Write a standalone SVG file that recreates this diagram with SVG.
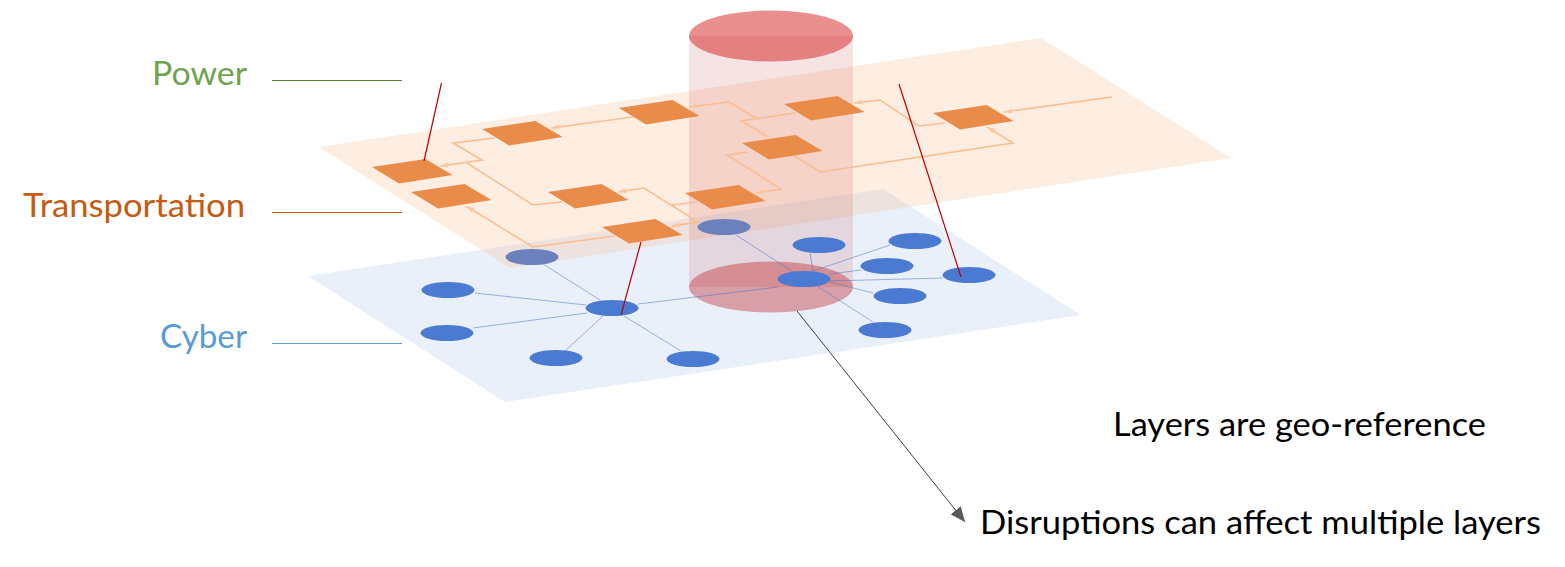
<svg xmlns="http://www.w3.org/2000/svg" width="1565" height="567" viewBox="0 0 1565 567">
<style>
text{font-family:"Lato","Carlito","Liberation Sans",sans-serif}
.lbl{font-size:33px}
.note{font-size:33px;fill:#000}
.p{fill:#E98C4A}
.c{fill:#4A7AD1}
.cs{fill:#6B80BC}
.pe{fill:none;stroke:#FBBE92;stroke-width:1.6}
.pa{marker-end:url(#oa)}
.ce{stroke:#4472C4;stroke-opacity:.5;stroke-width:1;fill:none}
.red{stroke:#C00000;stroke-width:1.2;fill:none}
</style>
<defs>
<marker id="oa" markerUnits="userSpaceOnUse" markerWidth="9" markerHeight="6" refX="8" refY="3" orient="auto"><path d="M0 0.500L8 3L0 5.500z" fill="#FCC6A0"/></marker>
<marker id="ga" markerUnits="userSpaceOnUse" markerWidth="16" markerHeight="14" refX="15" refY="7" orient="auto"><path d="M0 0.500L15 7L0 13.500z" fill="#595959"/></marker>
<polygon id="pn" points="0,0 53.500,-8 80.500,8 27,16.500"/>
</defs>
<polygon id="cyber-plane" points="308,276 883,189 1081,315 505,402" fill="#E9F0FA"/>
<polygon id="power-plane" points="319,147 1041,38 1231,158 510,268" fill="#FBB787" fill-opacity=".25"/>
<g id="disruption">
<rect x="689" y="36" width="164" height="251" fill="#C34444" fill-opacity=".15"/>
<ellipse cx="771" cy="287" rx="82" ry="25.500" fill="#BE0A0E" fill-opacity=".35"/>
<ellipse cx="771" cy="36" rx="82" ry="25.500" fill="#CE0707" fill-opacity=".45"/>
</g>
<g id="connectors">
<g id="cyber-links">
<path class="ce" d="M543 264L600 300M475 293L586 305M473 328L587 313M565 351L603 316M681 351L624 316M638 304L778 287M736 235L793 272M810 253L813 271M890 245L813 271M861 270L830 274M943 278L830 281M873 293L830 282M873 322L817 286"/>
</g>
<g id="power-links">
<polyline class="pe pa" points="1112,97 1004,112"/>
<polyline class="pe pa" points="945,123 919,126 880,100 854,103"/>
<polyline class="pe pa" points="795,113 741,121 769,137"/>
<polyline class="pe pa" points="756,118 729,102 689,107"/>
<polyline class="pe pa" points="793,155 820,172 1013,143 987,127"/>
<polyline class="pe pa" points="748,152 727,155 781,189 756,193"/>
<polyline class="pe pa" points="633,117 551,128"/>
<polyline class="pe pa" points="494,138 453,143 482,160 440,166"/>
<polyline class="pe" points="467,163 533,205 562,202"/>
<polyline class="pe pa" points="672,226 698,222 644,188 618,192"/>
<polyline class="pe" points="697,202 672,205"/>
<polyline class="pe pa" points="615,236 533,247 466,206"/>
<polyline class="pe pa" points="698,222 672,226"/>
</g>
</g>
<g id="cyber-node-1"><ellipse class="cs" cx="532" cy="257" rx="26.500" ry="8"/></g>
<g id="cyber-node-2"><ellipse class="cs" cx="724" cy="227" rx="26.500" ry="8"/></g>
<g id="cyber-node-3"><ellipse class="c" cx="448" cy="290" rx="26.500" ry="8"/></g>
<g id="cyber-node-4"><ellipse class="c" cx="447" cy="333" rx="26.500" ry="8"/></g>
<g id="cyber-node-5"><ellipse class="c" cx="556" cy="358" rx="26.500" ry="8"/></g>
<g id="cyber-node-6"><ellipse class="c" cx="693" cy="359" rx="26.500" ry="8"/></g>
<g id="cyber-node-7"><ellipse class="c" cx="612" cy="308" rx="26.500" ry="8"/></g>
<g id="cyber-node-8"><ellipse class="c" cx="819" cy="245" rx="26.500" ry="8"/></g>
<g id="cyber-node-9"><ellipse class="c" cx="915" cy="241" rx="26.500" ry="8"/></g>
<g id="cyber-node-10"><ellipse class="c" cx="887" cy="266" rx="26.500" ry="8"/></g>
<g id="cyber-node-11"><ellipse class="c" cx="969" cy="275" rx="26.500" ry="8"/></g>
<g id="cyber-node-12"><ellipse class="c" cx="900" cy="296" rx="26.500" ry="8"/></g>
<g id="cyber-node-13"><ellipse class="c" cx="885" cy="330" rx="26.500" ry="8"/></g>
<g id="cyber-node-14"><ellipse class="c" cx="804" cy="279" rx="26.500" ry="8"/></g>
<g id="power-node-1"><use href="#pn" class="p" x="372" y="167"/></g>
<g id="power-node-2"><use href="#pn" class="p" x="411" y="192"/></g>
<g id="power-node-3"><use href="#pn" class="p" x="482" y="129"/></g>
<g id="power-node-4"><use href="#pn" class="p" x="619" y="108"/></g>
<g id="power-node-5"><use href="#pn" class="p" x="548" y="192"/></g>
<g id="power-node-6"><use href="#pn" class="p" x="685" y="193"/></g>
<g id="power-node-7"><use href="#pn" class="p" x="602" y="227"/></g>
<g id="power-node-8"><use href="#pn" class="p" x="784" y="104"/></g>
<g id="power-node-9"><use href="#pn" class="p" x="742" y="143"/></g>
<g id="power-node-10"><use href="#pn" class="p" x="933" y="113"/></g>
<g id="cross-links">
<path class="red" d="M441.500 83L424 161M641 242L621 315M899 84L961 277"/>
<line x1="797" y1="311" x2="965" y2="522" stroke="#404040" stroke-width="1" marker-end="url(#ga)"/>
</g>
<g id="legend">
<line x1="272" y1="80.500" x2="402" y2="80.500" stroke="#548235"/>
<line x1="272" y1="212.500" x2="402" y2="212.500" stroke="#C55A11"/>
<line x1="272" y1="343.500" x2="402" y2="343.500" stroke="#5B9BD5"/>
<text class="lbl" x="152" y="84.500" fill="#6FA44F" textLength="95" lengthAdjust="spacingAndGlyphs">Power</text>
<text class="lbl" x="23" y="217" fill="#C55A11" textLength="222" lengthAdjust="spacingAndGlyphs">Transportation</text>
<text class="lbl" x="160" y="348" fill="#5B9BD5" textLength="87" lengthAdjust="spacingAndGlyphs">Cyber</text>
</g>
<text class="note" x="1113" y="436" textLength="373" lengthAdjust="spacingAndGlyphs">Layers are geo-reference</text>
<text class="note" x="980" y="534" textLength="561" lengthAdjust="spacingAndGlyphs">Disruptions can affect multiple layers</text>
</svg>
